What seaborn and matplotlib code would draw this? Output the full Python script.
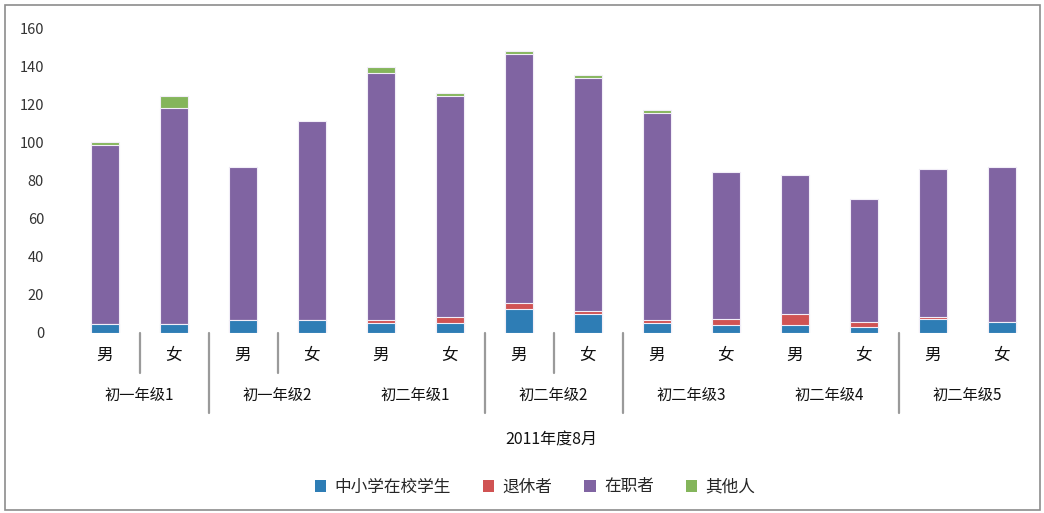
import numpy as np
import pandas as pd
import matplotlib
matplotlib.use("Agg")
import matplotlib.pyplot as plt
from matplotlib.patches import Patch, Rectangle
from matplotlib.transforms import blended_transform_factory
import seaborn as sns

# ---- data -------------------------------------------------------------
groups = ["初一年级1", "初一年级2", "初二年级1", "初二年级2",
          "初二年级3", "初二年级4", "初二年级5"]
sexes = ["男", "女"]
series_names = ["中小学在校学生", "退休者", "在职者", "其他人"]

students = [4.5, 4.5, 7.0, 7.0, 5.5, 5.5, 12.8, 10.0, 5.5, 4.2, 4.2, 3.0, 7.2, 5.8]
retired = [0.0, 0.0, 0.0, 0.0, 1.5, 3.0, 2.8, 1.7, 1.5, 3.0, 5.8, 3.0, 1.4, 0.0]
employed = [94.5, 114.0, 80.5, 104.5, 130.0, 116.0, 131.2, 122.3, 109.0, 77.7, 73.3, 64.5, 77.7, 81.7]
others = [1.5, 6.0, 0.0, 0.0, 2.8, 1.7, 1.6, 2.0, 1.4, 0.0, 0.0, 0.0, 0.0, 0.0]

y_ticks = [0, 20, 40, 60, 80, 100, 120, 140, 160]
x_title = "2011年度8月"

colors = ["#2E7DB5", "#D05353", "#8064A2", "#84B55B"]

# ---- figure -----------------------------------------------------------
sns.set_theme(style="white")
plt.rcParams["font.family"] = ["Noto Sans CJK SC", "DejaVu Sans"]

W, H = 1044, 513
fig = plt.figure(figsize=(W / 100, H / 100), dpi=100)
ax = fig.add_axes([70.5 / W, 1 - 333 / H, 966 / W, 304 / H])

n = len(students)
layers = [students, retired, employed, others]
cum = np.cumsum(np.array(layers, dtype=float), axis=0)

df = pd.DataFrame({"bar": np.arange(n)})
# draw the tallest cumulative layer first so lower layers sit on top
for k in range(len(layers) - 1, -1, -1):
    df["top"] = cum[k]
    sns.barplot(data=df, x="bar", y="top", color=colors[k], saturation=1,
                width=0.4, edgecolor="#f2eef8", linewidth=0.8, ax=ax)

ax.set_xlim(-0.5, n - 0.5)
ax.set_ylim(0, 160)
ax.set_xlabel("")
ax.set_ylabel("")
ax.set_xticks([])
ax.set_yticks(y_ticks)
ax.set_yticklabels([str(v) for v in y_ticks], fontsize=10.5, color="#333333")
ax.tick_params(axis="y", which="major", length=0, pad=19)
ax.set_yticks([40, 60, 80], minor=True)
ax.tick_params(axis="y", which="minor", length=7, width=1.2,
               direction="inout", color="#8a8a8a")
for s in ax.spines.values():
    s.set_visible(False)

# ---- multi-level category axis ----------------------------------------
tr = blended_transform_factory(ax.transData, ax.transAxes)
px = 1 / 304.0
for i in range(n):
    ax.text(i, -22 * px, sexes[i % 2], transform=tr, ha="center", va="center",
            fontsize=12, color="#111111")
for g, name in enumerate(groups):
    ax.text(2 * g + 0.5, -62 * px, name, transform=tr, ha="center",
            va="center", fontsize=11, color="#111111")

short_sep = [0.5, 2.5, 6.5]
long_sep = [1.5, 5.5, 7.5, 11.5]
for xs in short_sep:
    ax.plot([xs, xs], [0, -40 * px], transform=tr, color="#9a9a9a",
            lw=1.6, clip_on=False)
for xs in long_sep:
    ax.plot([xs, xs], [0, -80 * px], transform=tr, color="#9a9a9a",
            lw=1.6, clip_on=False)

fig.text(551 / W, 1 - 440 / H, x_title, ha="center", va="center",
         fontsize=11.5, color="#111111")

handles = [Patch(facecolor=c, edgecolor="none") for c in colors]
fig.legend(handles, series_names, loc="center", ncol=4,
           bbox_to_anchor=(535 / W, 1 - 487 / H), frameon=False,
           fontsize=12, handlelength=0.7, handleheight=0.7,
           handletextpad=0.5, columnspacing=1.9)

# chart border
fig.patches.append(Rectangle((5 / W, 3 / H), 1035 / W, 505 / H,
                             transform=fig.transFigure, fill=False,
                             edgecolor="#8c8c8c", lw=1.2))

fig.savefig("out.png", dpi=100, facecolor="white")
